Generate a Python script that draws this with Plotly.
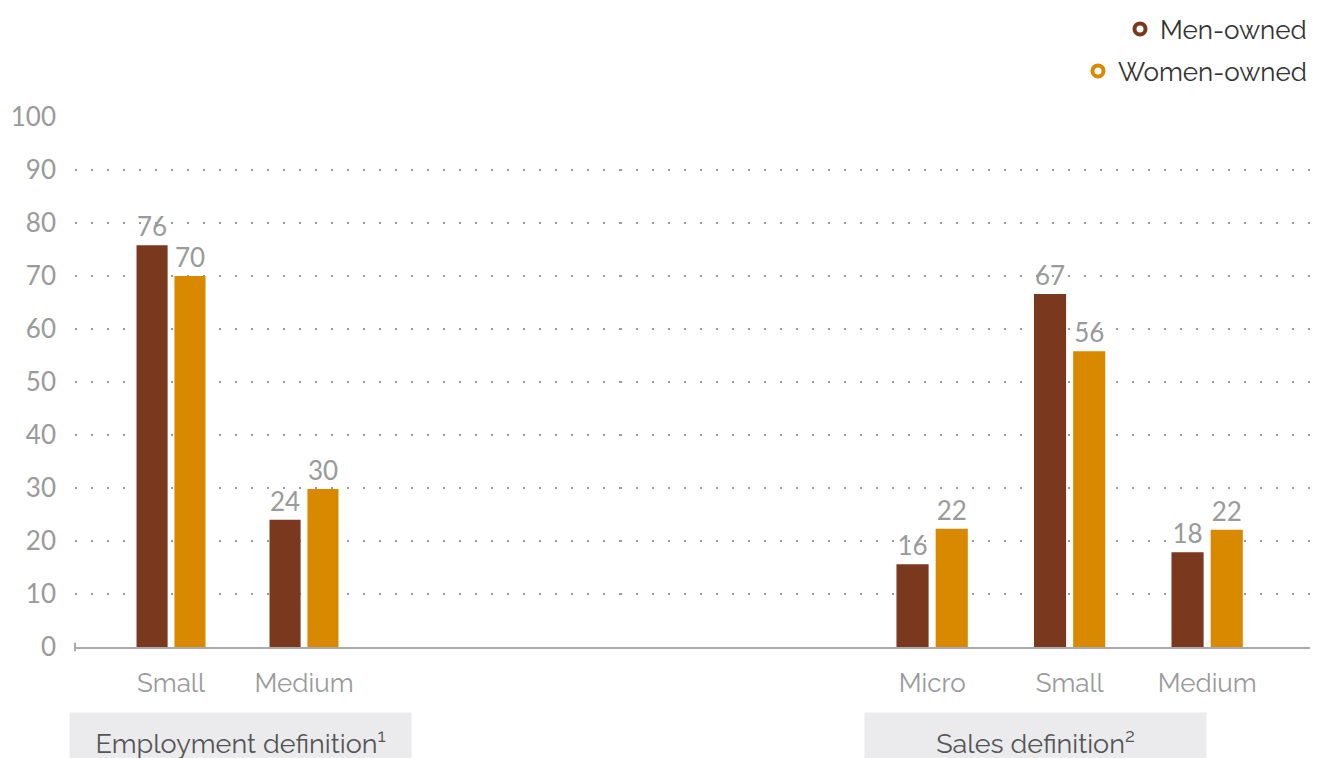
import plotly.graph_objects as go

emp_categories = ["Small", "Medium"]
sales_categories = ["Micro", "Small", "Medium"]
men_emp = [75.8, 24.0]
women_emp = [70.0, 29.8]
men_sales = [15.6, 66.6, 17.9]
women_sales = [22.3, 55.8, 22.1]
y_ticks = [0, 10, 20, 30, 40, 50, 60, 70, 80, 90, 100]

MEN = "#7A381E"
WOMEN = "#D98900"
GRAY = "#9a9a9a"
FONT = "Raleway, Lato, sans-serif"
NUMFONT = "Lato, sans-serif"

fig = go.Figure()

def bar(x, y, color, xa):
    return go.Bar(x=x, y=y, marker=dict(color=color, line=dict(width=0)),
                  texttemplate="%{y:.0f}", textposition="outside",
                  textfont=dict(color=GRAY, size=26, family=NUMFONT),
                  cliponaxis=False, showlegend=False, xaxis=xa, yaxis="y",
                  hoverinfo="skip")

fig.add_trace(bar(emp_categories, men_emp, MEN, "x"))
fig.add_trace(bar(emp_categories, women_emp, WOMEN, "x"))
fig.add_trace(bar(sales_categories, men_sales, MEN, "x2"))
fig.add_trace(bar(sales_categories, women_sales, WOMEN, "x2"))

# legend entries (ring markers)
fig.add_trace(go.Scatter(x=[None], y=[None], mode="markers", name="Men-owned",
                         marker=dict(symbol="circle-open", size=11, color=MEN, line=dict(width=4, color=MEN)),
                         legend="legend"))
fig.add_trace(go.Scatter(x=[None], y=[None], mode="markers", name="Women-owned",
                         marker=dict(symbol="circle-open", size=11, color=WOMEN, line=dict(width=4, color=WOMEN)),
                         legend="legend2"))

W, H = 1323, 758
L, R, T, B = 75, 13, 117, 111
plot_w = W - L - R
plot_h = H - T - B
brk = (620 - L) / plot_w

xcommon = dict(showgrid=False, zeroline=False, showline=True, linecolor="#aaaaaa", linewidth=2,
               ticks="", tickfont=dict(size=26, color=GRAY, family=FONT), ticklabelstandoff=12,
               fixedrange=True)
fig.update_layout(
    width=W, height=H,
    margin=dict(l=L, r=R, t=T, b=B, autoexpand=False),
    paper_bgcolor="white", plot_bgcolor="white",
    font=dict(family=FONT, color="#333333"),
    barmode="group", bargap=0.43, bargroupgap=0.18,
    xaxis=dict(domain=[0, brk], range=[-0.722, (620 - 171) / 133], **xcommon),
    xaxis2=dict(domain=[brk, 1], anchor="y", range=[-2.27, 2.748], **xcommon),
    yaxis=dict(range=[0, 100], tickvals=y_ticks, showgrid=True, gridcolor="#9a9a9a",
               gridwidth=2, griddash="2px,14px", zeroline=False, showline=False,
               tickfont=dict(size=26, color=GRAY, family=NUMFONT), ticklabelstandoff=18,
               fixedrange=True),
    legend=dict(xref="container", yref="container", x=1312 / W, xanchor="right",
                y=1 - 29 / H, yanchor="middle", font=dict(size=26, color="#333333", family=FONT),
                bgcolor="rgba(0,0,0,0)", itemwidth=30),
    legend2=dict(xref="container", yref="container", x=1312 / W, xanchor="right",
                 y=1 - 71 / H, yanchor="middle", font=dict(size=26, color="#333333", family=FONT),
                 bgcolor="rgba(0,0,0,0)", itemwidth=30),
)

# tick at start of axis line
fig.add_shape(type="line", xref="paper", yref="paper", x0=0, x1=0, y0=-0.008, y1=0.008,
              line=dict(color="#aaaaaa", width=2))

# group label boxes
def group_box(xc, text):
    fig.add_annotation(xref="paper", yref="paper", x=(xc - L) / plot_w, y=-(712 - 647) / plot_h,
                       xanchor="center", yanchor="top", showarrow=False, text=text,
                       width=341, height=46, bgcolor="#EBEBED", valign="bottom", borderpad=0,
                       font=dict(size=27, color="#555555", family=FONT))

group_box(240.5, "Employment definition<sup>1</sup>")
group_box(1035.5, "Sales definition<sup>2</sup>")

fig.write_html("out.html", config={"displayModeBar": False},
               post_script="document.body.style.margin='0';")
